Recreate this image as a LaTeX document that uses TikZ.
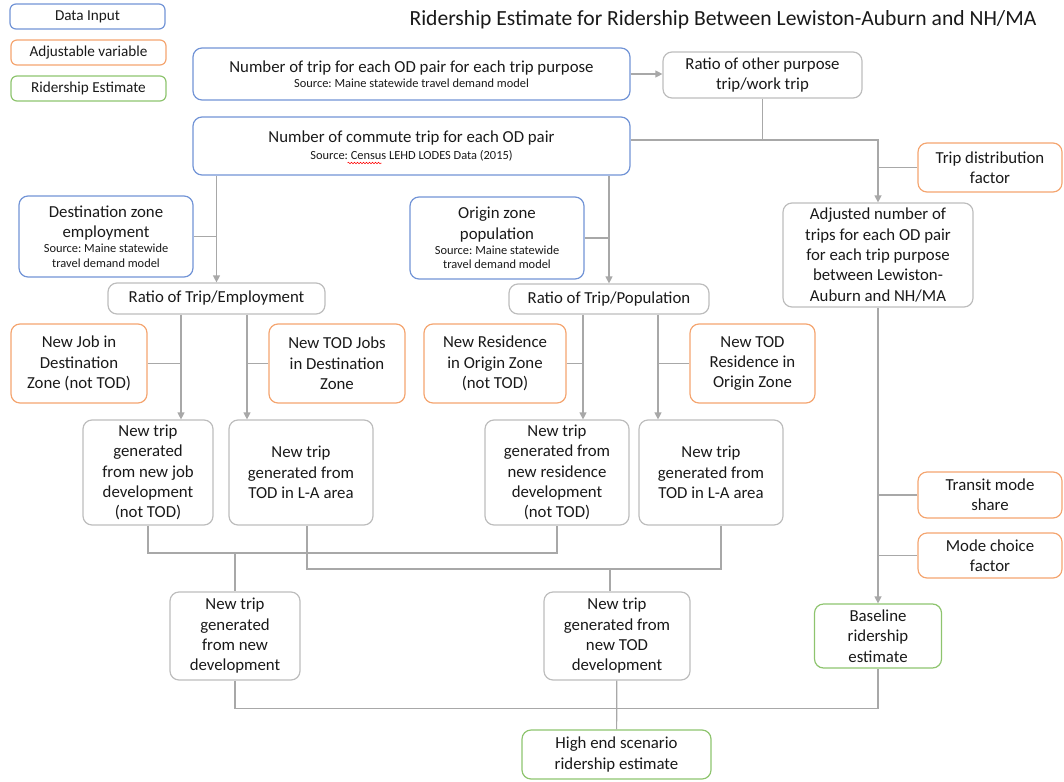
\documentclass[tikz,border=0pt]{standalone}
\usepackage{fontspec}
\setmainfont{Carlito}
\usetikzlibrary{arrows.meta, positioning, decorations.pathmorphing}
\frenchspacing
\definecolor{txtGray}{gray}{0.1}
\definecolor{lineGray}{gray}{0.66}
\definecolor{boxGray}{gray}{0.74}
\definecolor{inputBlue}{RGB}{114,148,214}
\definecolor{adjOrange}{RGB}{244,165,112}
\definecolor{estGreen}{RGB}{142,196,110}
\newcommand{\src}{\fontsize{12.4}{14}\selectfont}
\tikzset{
    box/.style={draw=boxGray, line width=1.2pt, rounded corners=9pt, align=center,
        inner sep=0pt, text=txtGray, font=\fontsize{16.8}{20.3}\selectfont},
    inputbox/.style={box, draw=inputBlue},
    adjbox/.style={box, draw=adjOrange},
    estbox/.style={box, draw=estGreen},
    legend/.style={font=\fontsize{15.2}{18}\selectfont, rounded corners=6pt},
    boxsize/.style 2 args={minimum width=#1pt, minimum height=#2pt},
    link/.style={draw=lineGray, line width=1.2pt},
    feed/.style={link, -{Triangle[length=7pt, width=7pt]}},
    spellmark/.style={red, line width=0.5pt, decorate,
        decoration={snake, amplitude=0.8pt, segment length=3pt}},
}

\begin{document}
\begin{tikzpicture}[x=1pt, y=-1pt]
    \useasboundingbox (0,0) rectangle (1064,781);

    % Legend
    \node[inputbox, legend, boxsize={155}{25}] (legin) at (87.5,16.5) {Data Input};
    \node[adjbox, legend, boxsize={155}{25}] (legadj) at (88.5,52.5) {Adjustable variable};
    \node[estbox, legend, boxsize={155}{25}] (legest) at (88.5,88.5) {Ridership Estimate};

    \node[text=txtGray, font=\fontsize{21.6}{26}\selectfont, anchor=west] (title) at (406,20)
        {Ridership Estimate for Ridership Between Lewiston-Auburn and NH/MA};

    % Trip tables
    \node[inputbox, boxsize={437}{52}] (tripall) at (411.5,74)
        {Number of trip for each OD pair for each trip purpose\\[-5pt]{\src Source: Maine statewide travel demand model}};
    \node[box, boxsize={199}{46}] (ratioother) at (762.5,75) {Ratio of other purpose\\trip/work trip};
    \node[inputbox, boxsize={437}{58}] (commute) at (411.5,146)
        {Number of commute trip for each OD pair\\[-4pt]{\src Source: Census LEHD LODES Data (2015)}};
    \node[adjbox, boxsize={144}{49}] (tripdist) at (990,167.5) {Trip distribution\\factor};
    \node[box, boxsize={190}{104}] (adjusted) at (878,255)
        {Adjusted number of\\trips for each OD pair\\for each trip purpose\\between Lewiston-\\Auburn and NH/MA};

    % Zone data
    \node[inputbox, boxsize={174}{81}] (destemp) at (106,236.5)
        {Destination zone\\employment\\[-5pt]{\src Source: Maine statewide}\\[-6pt]{\src travel demand model}};
    \node[inputbox, boxsize={174}{82}] (origpop) at (497,238)
        {Origin zone\\population\\[-5pt]{\src Source: Maine statewide}\\[-6pt]{\src travel demand model}};
    \node[box, boxsize={217}{31}] (ratioemp) at (216.5,298.5) {Ratio of Trip/Employment};
    \node[box, boxsize={200}{30}] (ratiopop) at (609,299) {Ratio of Trip/Population};

    % Growth inputs
    \node[adjbox, boxsize={136}{79}] (newjob) at (79,363.5) {New Job in\\Destination\\Zone (not TOD)};
    \node[adjbox, boxsize={136}{79}] (todjobs) at (337,363.5) {New TOD Jobs\\in Destination\\Zone};
    \node[adjbox, boxsize={142}{79}] (newres) at (495,363.5) {New Residence\\in Origin Zone\\(not TOD)};
    \node[adjbox, boxsize={125}{79}] (todres) at (752.5,363.5) {New TOD\\Residence in\\Origin Zone};

    % New trips
    \node[box, boxsize={130}{105}] (tripjob) at (148,472.5)
        {New trip\\generated\\from new job\\development\\(not TOD)};
    \node[box, boxsize={144}{105}] (triptodA) at (301,472.5) {New trip\\generated from\\TOD in L-A area};
    \node[box, boxsize={144}{105}] (tripres) at (557,472.5)
        {New trip\\generated from\\new residence\\development\\(not TOD)};
    \node[box, boxsize={144}{105}] (triptodB) at (711,472.5) {New trip\\generated from\\TOD in L-A area};
    \node[box, boxsize={130}{88}] (tripnew) at (235,636) {New trip\\generated\\from new\\development};
    \node[box, boxsize={146}{88}] (triptod) at (617,636) {New trip\\generated from\\new TOD\\development};

    % Mode split
    \node[adjbox, boxsize={144}{46}] (transit) at (990,495) {Transit mode\\share};
    \node[adjbox, boxsize={144}{45}] (modechoice) at (990,555.5) {Mode choice\\factor};
    \node[estbox, boxsize={127}{64}] (baseline) at (878,636) {Baseline\\ridership\\estimate};
    \node[estbox, boxsize={189}{49}] (highend) at (616.5,754.5) {High end scenario\\ridership estimate};

    % spell-check wave under "Census"
    \draw[spellmark] ([shift={(-64,17)}]commute.center) -- ([shift={(-30,17)}]commute.center);

    % Arrows
    \coordinate (jc) at ([yshift=6pt]commute.east);
    \coordinate (e1) at ([xshift=-35.5pt]ratioemp.south);
    \coordinate (e2) at ([xshift=30.5pt]ratioemp.south);
    \coordinate (p1) at ([xshift=-26pt]ratiopop.south);
    \coordinate (p2) at ([xshift=49pt]ratiopop.south);
    \coordinate (m1) at (235,553);
    \coordinate (m2) at (610,569);

    \draw[feed] (tripall) -- (tripall -| ratioother.west);
    \draw[feed] (jc) -| (adjusted.north);
    \draw[link] (ratioother.south) -- (ratioother.south |- jc);
    \draw[link] (tripdist) -- (tripdist -| adjusted);

    \draw[feed] (commute.south -| ratioemp.north) -- (ratioemp.north);
    \draw[feed] (commute.south -| ratiopop.north) -- (ratiopop.north);
    \draw[link] (destemp) -- (destemp -| ratioemp);
    \draw[link] (origpop) -- (origpop -| ratiopop);

    \draw[feed] (e1) -- (e1 |- tripjob.north);
    \draw[feed] (e2) -- (e2 |- triptodA.north);
    \draw[feed] (p1) -- (p1 |- tripres.north);
    \draw[feed] (p2) -- (p2 |- triptodB.north);
    \draw[link] (newjob) -- (newjob -| e1);
    \draw[link] (todjobs) -- (todjobs -| e2);
    \draw[link] (newres) -- (newres -| p1);
    \draw[link] (todres) -- (todres -| p2);

    \draw[link] (tripjob.south) |- (m1) -| (tripres.south);
    \draw[link] (m1) -- (tripnew);
    \draw[link] ([xshift=6pt]triptodA.south) |- (m2) -| ([xshift=10pt]triptodB.south);
    \draw[link] (m2) -- (m2 |- triptod.north);

    \draw[feed] (adjusted) -- (baseline);
    \draw[link] (transit) -- (transit -| adjusted);
    \draw[link] (modechoice) -- (modechoice -| adjusted);

    \draw[link] (tripnew.south) |- ([yshift=-40pt]baseline.south) -- (baseline.south);
    \draw[link] (triptod) -- (highend);
\end{tikzpicture}
\end{document}
